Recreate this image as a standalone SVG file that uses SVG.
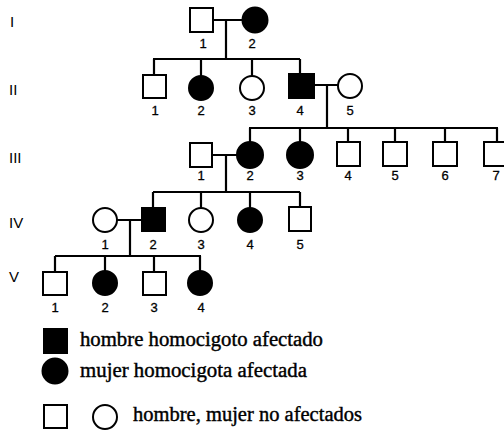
<svg xmlns="http://www.w3.org/2000/svg" width="504" height="432" viewBox="0 0 504 432">
<style>
.n{fill:#fff;stroke:#000;stroke-width:2}
.a{fill:#000;stroke:#000;stroke-width:2}
.c{fill:none;stroke:#000;stroke-width:2.2}
.l{font-family:"Liberation Sans",Arial,sans-serif;font-size:13px;text-anchor:middle;fill:#000;stroke:#000;stroke-width:0.3}
.g{font-family:"Liberation Sans",Arial,sans-serif;font-size:15px;fill:#000}
.t{font-family:"Liberation Serif","Times New Roman",serif;font-size:20px;fill:#000;stroke:#000;stroke-width:0.4}
</style>
<rect width="504" height="432" fill="#fff"/>
<g id="generations">
<text class="g" x="10" y="27">I</text>
<text class="g" x="9" y="95">II</text>
<text class="g" x="9" y="163">III</text>
<text class="g" x="9" y="228">IV</text>
<text class="g" x="9" y="282">V</text>
</g>
<g id="connectors">
<path class="c" d="M213,20H243M226,20V59M153,59H300M154,59V75M201,59V76M252,59V76M300,59V74"/>
<path class="c" d="M315,85H338M327,85V128M249,128H498M250,128V143M300,128V143M348,128V142M395,128V142M445,128V142M497,128V142"/>
<path class="c" d="M212,155H237M226,155V192M153,192H300M153,192V207M201,192V208M250,192V208M300,192V207"/>
<path class="c" d="M117,220H142M130,220V256M55,256H201M55,256V272M105,256V271M154,256V272M200,256V271"/>
</g>
<g id="I-1"><rect class="n" x="190" y="8" width="23" height="24"/><text class="l" x="203" y="48">1</text></g>
<g id="I-2"><circle class="a" cx="255" cy="20" r="12.5"/><text class="l" x="252" y="48">2</text></g>
<g id="II-1"><rect class="n" x="143" y="75" width="23" height="23"/><text class="l" x="155" y="115">1</text></g>
<g id="II-2"><circle class="a" cx="201" cy="88" r="12"/><text class="l" x="201" y="115">2</text></g>
<g id="II-3"><circle class="n" cx="252" cy="88" r="12"/><text class="l" x="252" y="115">3</text></g>
<g id="II-4"><rect class="a" x="289" y="74" width="25" height="24"/><text class="l" x="300" y="115">4</text></g>
<g id="II-5"><circle class="n" cx="350" cy="86" r="12"/><text class="l" x="350" y="115">5</text></g>
<g id="III-1"><rect class="n" x="190" y="143" width="22" height="24"/><text class="l" x="201" y="180">1</text></g>
<g id="III-2"><circle class="a" cx="250" cy="155" r="13"/><text class="l" x="250" y="180">2</text></g>
<g id="III-3"><circle class="a" cx="300" cy="155" r="13"/><text class="l" x="300" y="180">3</text></g>
<g id="III-4"><rect class="n" x="337" y="142" width="23" height="24"/><text class="l" x="348" y="180">4</text></g>
<g id="III-5"><rect class="n" x="383" y="142" width="24" height="24"/><text class="l" x="395" y="180">5</text></g>
<g id="III-6"><rect class="n" x="433" y="142" width="24" height="24"/><text class="l" x="445" y="180">6</text></g>
<g id="III-7"><rect class="n" x="484" y="142" width="23" height="24"/><text class="l" x="496" y="180">7</text></g>
<g id="IV-1"><circle class="n" cx="105" cy="220" r="12"/><text class="l" x="105" y="249">1</text></g>
<g id="IV-2"><rect class="a" x="142" y="208" width="23" height="23"/><text class="l" x="153" y="249">2</text></g>
<g id="IV-3"><circle class="n" cx="201" cy="220" r="12"/><text class="l" x="201" y="249">3</text></g>
<g id="IV-4"><circle class="a" cx="250" cy="220" r="12"/><text class="l" x="250" y="249">4</text></g>
<g id="IV-5"><rect class="n" x="289" y="207" width="22" height="24"/><text class="l" x="300" y="249">5</text></g>
<g id="V-1"><rect class="n" x="43" y="272" width="24" height="23"/><text class="l" x="55" y="312">1</text></g>
<g id="V-2"><circle class="a" cx="105" cy="283" r="12"/><text class="l" x="105" y="312">2</text></g>
<g id="V-3"><rect class="n" x="143" y="272" width="23" height="23"/><text class="l" x="154" y="312">3</text></g>
<g id="V-4"><circle class="a" cx="200" cy="283" r="12"/><text class="l" x="201" y="312">4</text></g>
<g id="legend">
<rect class="a" x="44" y="329" width="23" height="24"/>
<text class="t" x="80" y="346" textLength="243" lengthAdjust="spacingAndGlyphs">hombre homocigoto afectado</text>
<circle class="a" cx="55" cy="371" r="12.5"/>
<text class="t" x="80" y="377" textLength="227" lengthAdjust="spacingAndGlyphs">mujer homocigota afectada</text>
<rect class="n" x="44" y="405" width="23" height="23"/>
<circle class="n" cx="105" cy="417" r="12"/>
<text class="t" x="133" y="421" textLength="229" lengthAdjust="spacingAndGlyphs">hombre, mujer no afectados</text>
</g>
</svg>
